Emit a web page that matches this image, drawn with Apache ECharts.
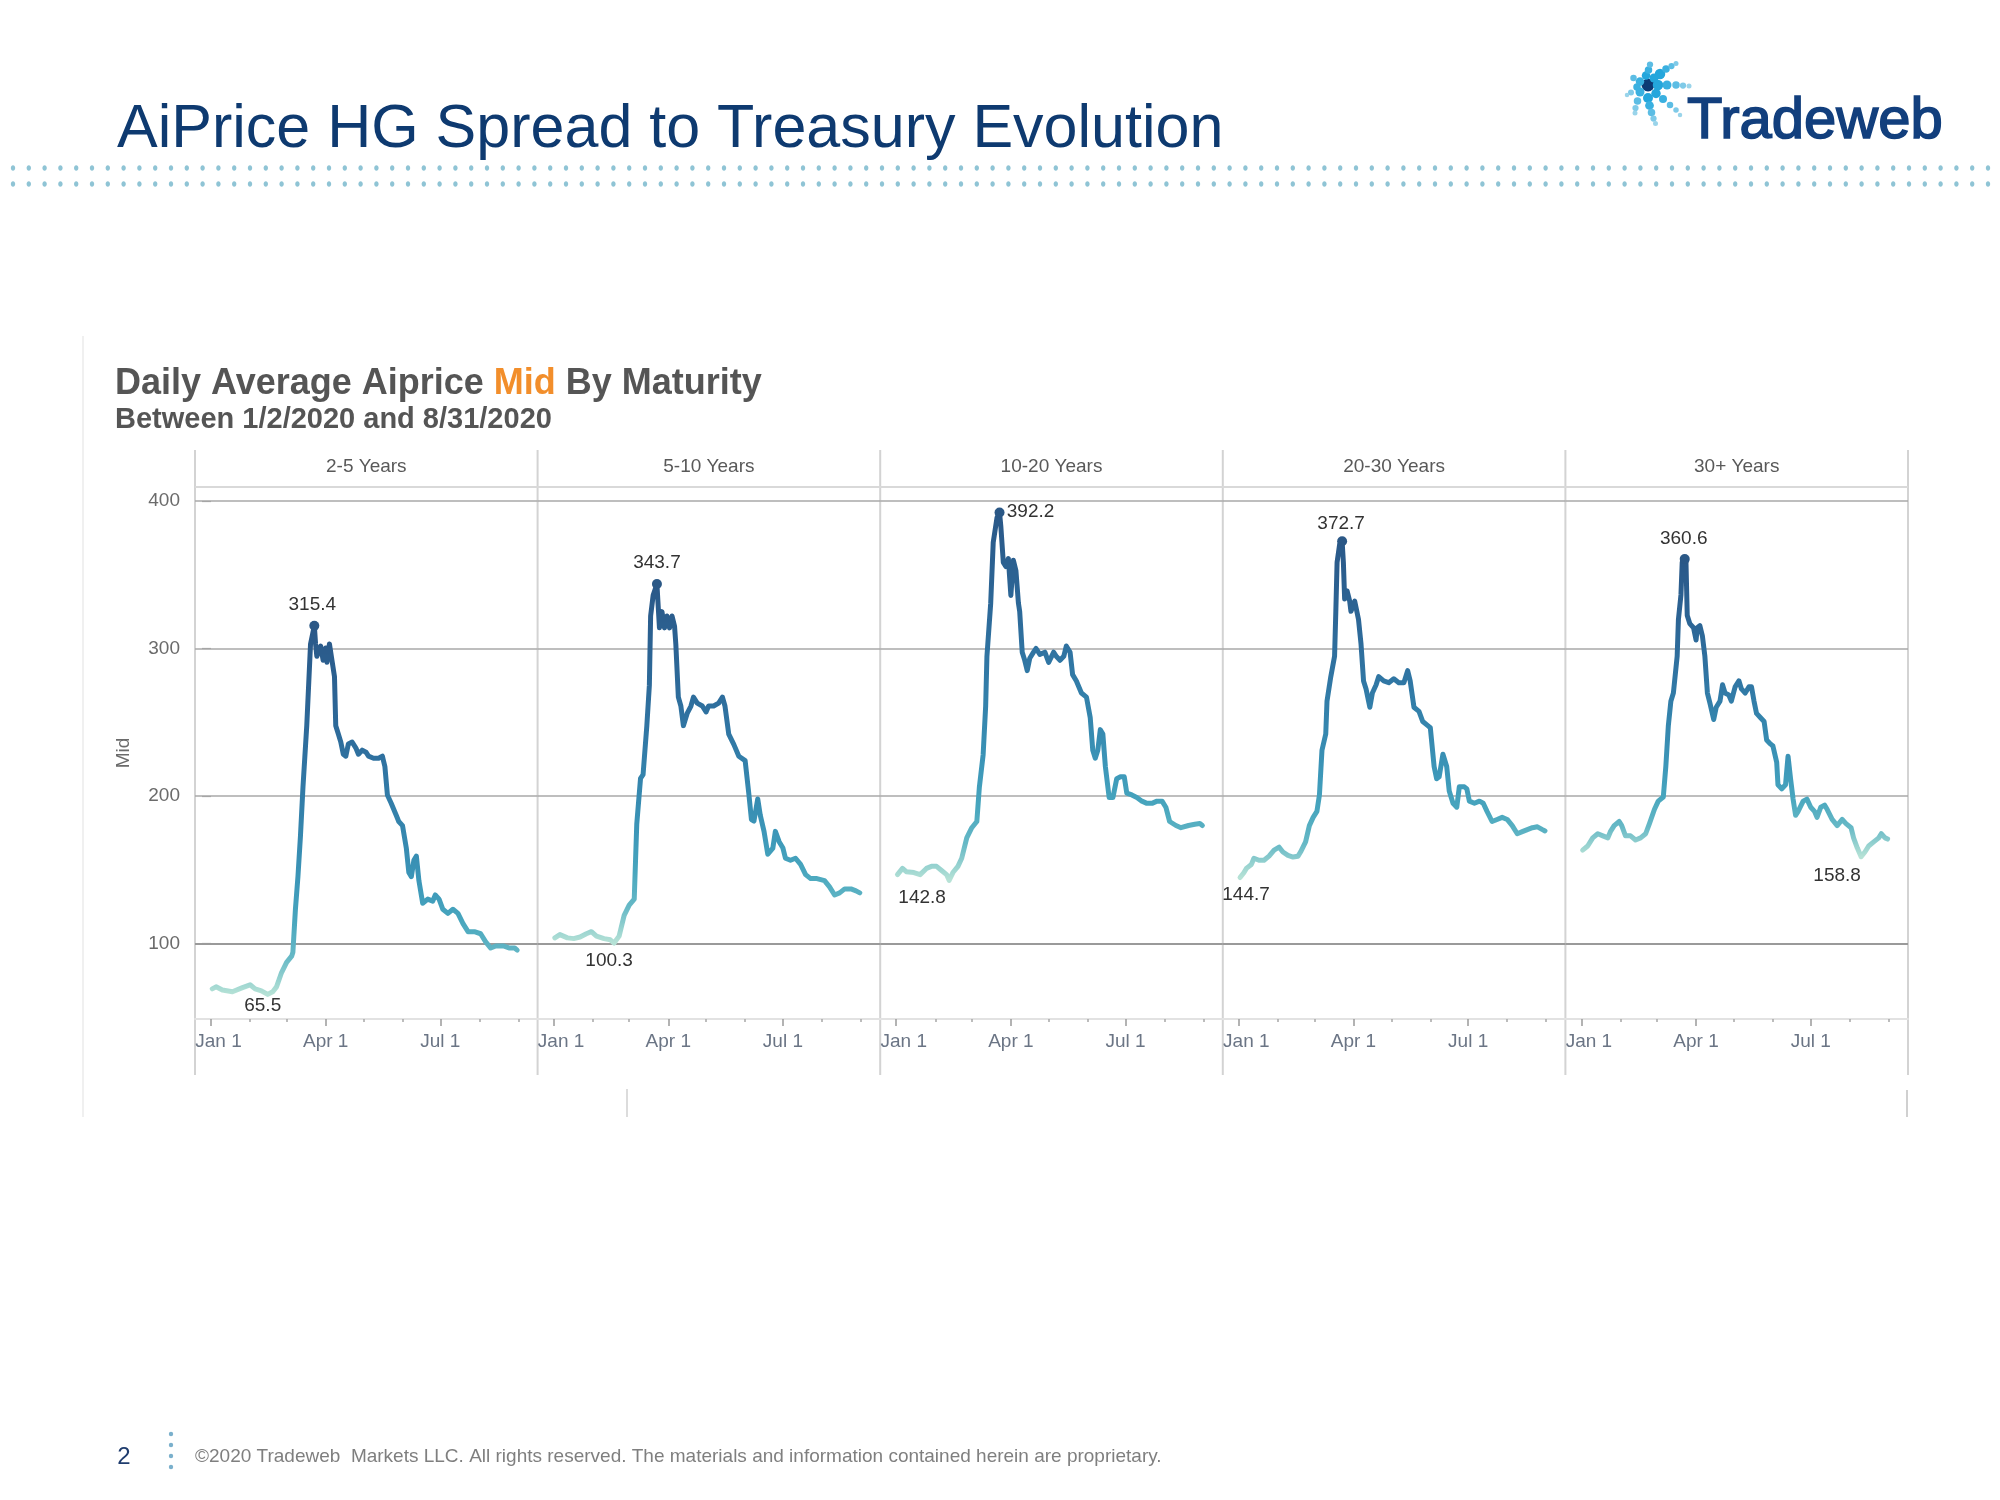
<!DOCTYPE html>
<html><head><meta charset="utf-8">
<script src="https://cdn.jsdelivr.net/npm/echarts@6/dist/echarts.min.js"></script>
<style>html,body{margin:0;padding:0;background:#fff}#c{width:2000px;height:1500px}</style>
</head><body><div id="c"></div>
<script>
// ---------------- DATA ----------------
const panelNames = ['2-5 Years', '5-10 Years', '10-20 Years', '20-30 Years', '30+ Years'];

const dates25 = ['01-02','01-05','01-10','01-18','01-26','02-01','02-05','02-10','02-15','02-19',
'02-22','02-26','03-01','03-05','03-06','03-08','03-10','03-12','03-14','03-17',
'03-20','03-23','03-24','03-25','03-28','03-30','04-01','04-02','04-04','04-06',
'04-08','04-09','04-11','04-13','04-15','04-17','04-19','04-22','04-25','04-27',
'04-30','05-03','05-05','05-09','05-13','05-16','05-18','05-20','05-23','05-27',
'05-29','06-01','06-04','06-06','06-08','06-10','06-12','06-14','06-17','06-21',
'06-25','06-27','06-30','07-03','07-07','07-11','07-15','07-19','07-23','07-28',
'08-02','08-06','08-10','08-14','08-20','08-25','08-29','08-31'];
const mid25 = [69.2,70.6,68.4,67.3,70.1,72.0,69.2,67.9,65.5,67.3,
70.6,80.3,87.2,91.4,94.1,123.2,145.3,173.0,206.2,247.7,
303.1,315.4,303.1,294.7,301.7,292.0,300.3,290.6,303.1,292.0,
280.9,247.7,242.2,236.6,228.3,227.0,235.3,236.6,232.5,228.3,
231.1,229.7,227.0,225.6,225.6,227.0,220.0,200.7,195.1,186.9,
182.7,179.9,164.7,148.1,145.3,156.4,159.2,142.6,127.3,130.1,
128.7,132.9,130.1,123.2,120.4,123.2,120.4,113.5,108.0,108.0,
106.6,101.1,96.9,98.3,98.3,96.9,96.9,95.5];

const dates510 = ['01-02','01-06','01-12','01-17','01-22','01-27','01-31','02-04','02-10','02-15',
'02-18','02-22','02-26','03-01','03-05','03-07','03-10','03-12','03-15','03-17',
'03-18','03-20','03-23','03-25','03-27','03-29','03-31','04-02','04-04','04-06',
'04-07','04-09','04-11','04-13','04-16','04-19','04-21','04-24','04-28','05-01',
'05-03','05-07','05-11','05-14','05-16','05-19','05-23','05-27','06-01','06-04',
'06-06','06-08','06-11','06-13','06-16','06-19','06-23','06-25','06-28','07-01',
'07-03','07-07','07-11','07-15','07-19','07-23','07-28','08-03','08-07','08-11',
'08-15','08-19','08-24','08-28','08-31'];
const mid510 = [103.8,106.0,103.8,103.3,104.4,106.6,108.0,105.0,103.3,102.5,
100.3,105.0,119.0,126.0,130.0,181.0,212.0,214.5,247.7,275.0,
322.0,336.0,343.7,314.0,325.0,314.0,322.0,314.0,322.0,315.0,
303.0,267.0,261.0,247.7,256.0,261.0,267.0,263.0,261.0,257.0,
261.0,261.0,263.0,267.0,261.0,242.0,235.0,227.0,224.0,201.0,
184.0,183.0,198.0,187.0,176.0,160.5,164.7,176.0,169.0,164.7,
157.8,156.4,157.8,153.6,146.7,144.0,144.0,142.6,138.4,132.9,
134.3,137.0,137.0,135.7,134.3];

const dates1020 = ['01-02','01-06','01-09','01-15','01-20','01-25','01-29','02-02','02-06','02-10',
'02-12','02-15','02-19','02-22','02-26','03-01','03-05','03-07','03-10','03-12',
'03-13','03-16','03-18','03-21','03-23','03-24','03-26','03-28','03-30','04-01',
'04-03','04-05','04-07','04-08','04-10','04-12','04-14','04-16','04-19','04-21',
'04-24','04-28','05-01','05-05','05-07','05-10','05-13','05-15','05-18','05-20',
'05-23','05-27','05-31','06-03','06-05','06-07','06-09','06-11','06-13','06-15',
'06-18','06-21','06-24','06-27','06-30','07-02','07-06','07-10','07-14','07-18',
'07-22','07-26','07-30','08-02','08-05','08-10','08-14','08-20','08-25','08-29',
'08-31'];
const mid1020 = [146.7,150.9,148.7,148.1,146.7,150.9,152.3,152.3,149.5,146.7,
142.8,148.1,152.3,157.8,171.6,178.5,182.7,206.0,228.0,261.0,
294.7,330.7,372.0,388.8,392.2,383.3,358.4,355.6,361.0,336.0,
359.8,352.9,330.7,325.2,297.5,292.0,285.0,293.4,297.5,300.0,
296.0,297.5,290.6,297.5,294.7,292.0,294.7,301.7,297.5,282.3,
278.0,269.8,267.0,253.0,231.0,225.6,231.0,245.0,242.0,220.0,
199.0,199.0,211.7,213.0,213.0,202.0,200.7,199.0,196.5,195.0,
195.0,196.5,196.5,192.4,182.7,180.0,178.5,180.0,180.8,181.3,
180.0];

const dates2030 = ['01-02','01-05','01-07','01-11','01-13','01-17','01-21','01-25','01-29','02-02',
'02-05','02-09','02-13','02-17','02-19','02-23','02-26','02-29','03-03','03-05',
'03-07','03-10','03-11','03-14','03-17','03-18','03-19','03-21','03-23','03-24',
'03-25','03-27','03-29','03-30','04-02','04-03','04-05','04-07','04-09','04-11',
'04-13','04-14','04-16','04-19','04-21','04-25','04-29','05-03','05-07','05-11',
'05-14','05-16','05-19','05-23','05-26','05-30','06-01','06-04','06-06','06-08',
'06-11','06-14','06-16','06-19','06-22','06-24','06-28','06-30','07-02','07-06',
'07-10','07-13','07-16','07-20','07-24','07-28','08-01','08-05','08-09','08-13',
'08-17','08-21','08-25','08-29','08-31'];
const mid2030 = [144.7,148.0,150.9,153.6,157.8,156.4,156.4,159.2,163.3,165.3,
162.0,159.7,158.6,159.2,162.0,168.9,179.9,185.5,189.6,200.7,
231.0,242.0,264.3,280.9,294.7,325.2,358.4,370.5,372.7,358.4,
333.5,339.0,332.1,325.2,332.1,328.0,319.7,303.0,278.0,272.6,
264.3,260.2,269.8,275.4,280.9,278.0,276.8,279.5,276.8,276.8,
285.0,278.0,260.2,257.4,250.5,247.7,246.3,220.0,211.7,213.0,
228.3,220.0,203.4,195.1,192.4,206.2,206.2,204.8,196.5,195.1,
196.5,195.1,189.6,182.7,184.1,185.5,184.1,179.9,174.4,175.8,
177.2,178.5,179.1,177.2,176.3];

const dates30 = ['01-02','01-06','01-10','01-14','01-18','01-22','01-24','01-27','01-31','02-02',
'02-05','02-09','02-13','02-17','02-21','02-24','02-28','03-02','03-06','03-08',
'03-10','03-12','03-14','03-17','03-18','03-20','03-21','03-23','03-24','03-25',
'03-27','03-30','04-01','04-02','04-04','04-06','04-08','04-10','04-12','04-15',
'04-17','04-20','04-22','04-24','04-27','04-29','05-02','05-05','05-07','05-10',
'05-13','05-15','05-17','05-19','05-22','05-25','05-27','05-30','06-01','06-04',
'06-05','06-08','06-11','06-13','06-15','06-17','06-19','06-21','06-25','06-28',
'07-01','07-04','07-06','07-09','07-12','07-14','07-18','07-22','07-26','07-29',
'08-02','08-04','08-07','08-10','08-13','08-16','08-20','08-24','08-26','08-29',
'08-31'];
const mid30 = [163.3,166.1,171.6,174.4,173.0,171.6,175.8,179.9,182.7,179.9,
173.0,173.0,170.2,171.6,174.4,181.3,191.0,196.5,199.3,220.0,
247.7,264.3,269.8,294.7,319.7,336.3,358.4,360.6,358.4,322.4,
316.9,314.1,305.8,314.1,315.5,308.6,294.7,269.8,262.9,251.9,
260.2,264.3,275.4,269.8,268.5,264.3,274.0,278.1,272.6,269.8,
274.0,274.0,264.3,256.0,253.2,250.5,238.0,235.3,233.9,222.8,
207.6,204.8,207.6,227.0,211.7,197.9,186.9,189.6,196.5,197.9,
192.4,189.6,185.5,192.4,193.8,191.0,184.1,179.9,184.1,181.3,
178.5,171.6,164.7,158.8,162.0,166.1,168.9,171.6,174.4,171.6,
170.8];

const yTickValues = [100, 200, 300, 400];
const xTickDays = [0, 91, 182];            // Jan 1, Apr 1, Jul 1 (day of 2020)
const xTickLabels = ['Jan 1', 'Apr 1', 'Jul 1'];
const xMinorDays = [31, 60, 121, 152, 213, 244]; // Feb 1, Mar 1, May 1, Jun 1, Aug 1, Sep 1

// ---------------- LAYOUT / STYLE ----------------
const FONT = '"Liberation Sans", Arial, sans-serif';
const NAVY = '#0e3a70';
const PL = 195, PW = 342.6, GT = 487, GH = 532;
const X_MIN = -12.7, X_MAX = 259.2, Y_MIN = 48.8, Y_MAX = 409.5;
const BLUE_TEAL = ['#b6e2d6','#66b9c6','#48a6be','#3d98b9','#378bb1','#3380aa','#3075a3','#2e6c9b','#2c6494','#2b5e8e','#2a5888'];
const maxOffsets = [[-2,-21],[0,-21.5],[31,-1],[-1,-18],[-1,-20]];
const minOffsets = [[-5,11],[-5,18],[-27,17],[6,17.5],[-24,19]];

function doy(s) {
  const p = s.split('-').map(Number);
  return (Date.UTC(2020, p[0] - 1, p[1]) - Date.UTC(2020, 0, 1)) / 86400000;
}
const allDates = [dates25, dates510, dates1020, dates2030, dates30];
const allMids = [mid25, mid510, mid1020, mid2030, mid30];

const grids = [], xAxes = [], yAxes = [], series = [], visualMaps = [];
panelNames.forEach((name, i) => {
  grids.push({ left: PL + i * PW, top: GT, width: PW, height: GH, containLabel: false, outerBoundsMode: 'none' });
  xAxes.push({
    type: 'value', gridIndex: i, position: 'bottom', min: X_MIN, max: X_MAX,
    splitLine: { show: false },
    axisLine: { show: true, lineStyle: { color: '#e2e2e2', width: 2 } },
    axisTick: { show: true, customValues: xTickDays, length: 7, lineStyle: { color: '#9a9a9a', width: 1.5 } },
    axisLabel: { show: true, customValues: xTickDays, margin: 13, fontSize: 19, color: '#6b7585', fontFamily: FONT,
      formatter: v => {
        const k = xTickDays.indexOf(Math.round(v));
        if (k < 0) return '';
        return k === 0 ? '{first|' + xTickLabels[k] + '}' : xTickLabels[k];
      },
      rich: { first: { fontSize: 19, color: '#6b7585', fontFamily: FONT, padding: [0, 0, 0, 15] } } }
  });
  xAxes.push({
    type: 'value', gridIndex: i, position: 'bottom', min: X_MIN, max: X_MAX,
    splitLine: { show: false }, axisLine: { show: false },
    axisTick: { show: true, customValues: xMinorDays, length: 3, lineStyle: { color: '#a8a8a8', width: 1.5 } },
    axisLabel: { show: false }
  });
  yAxes.push({
    type: 'value', gridIndex: i, min: Y_MIN, max: Y_MAX,
    splitLine: { show: false }, axisLine: { show: false },
    axisTick: { show: i === 0, customValues: yTickValues, length: 9, lineStyle: { color: '#9a9a9a', width: 1.2 } },
    axisLabel: { show: i === 0, customValues: yTickValues, margin: 15, fontSize: 19, color: '#6b6b6b', fontFamily: FONT },
    name: i === 0 ? 'Mid' : '', nameLocation: 'middle', nameRotate: 90, nameGap: 62,
    nameTextStyle: { fontSize: 19, color: '#6b6b6b', fontFamily: FONT }
  });
  const dts = allDates[i], mids = allMids[i];
  series.push({
    type: 'line', name: name, xAxisIndex: 2 * i, yAxisIndex: i, z: 3,
    data: dts.map((d, k) => [doy(d), mids[k]]),
    symbol: 'none', showSymbol: false,
    lineStyle: { width: 5, cap: 'round', join: 'round' },
    markLine: {
      silent: true, z: 1, symbol: ['none', 'none'], label: { show: false },
      lineStyle: { color: '#a5a5a5', width: 1.5, type: 'solid' },
      emphasis: { disabled: true },
      data: yTickValues.map(v => ({ yAxis: v, lineStyle: { width: v === 100 ? 2 : 1.5, color: v === 100 ? '#9a9a9a' : '#a8a8a8' } }))
    },
    markPoint: {
      silent: true,
      label: { show: true, position: 'inside', color: '#333', fontSize: 19, fontFamily: FONT,
        formatter: p => Number(p.value).toFixed(1) },
      data: [
        { type: 'max', symbol: 'circle', symbolSize: 10, itemStyle: { color: '#2b5886' },
          label: { offset: maxOffsets[i] } },
        { type: 'min', symbol: 'circle', symbolSize: 1, itemStyle: { color: 'rgba(0,0,0,0)' },
          label: { offset: minOffsets[i] } }
      ]
    }
  });
  visualMaps.push({
    type: 'continuous', show: false, seriesIndex: i, dimension: 1,
    min: Math.min(...mids), max: Math.max(...mids), inRange: { color: BLUE_TEAL }
  });
});

// ---------------- DECORATION ----------------
const graphics = [];
// slide title
graphics.push({ type: 'text', z: 10, style: { x: 117, y: 130, text: 'AiPrice HG Spread to Treasury Evolution',
  font: '61px ' + FONT, fill: NAVY, verticalAlign: 'middle', align: 'left' } });
// dotted rules
for (let r = 0; r < 2; r++) {
  for (let k = 0; k < 127; k++) {
    graphics.push({ type: 'ellipse', silent: true, shape: { cx: 13 + k * 15.8, cy: r === 0 ? 168 : 184, rx: 2.2, ry: 2.7 }, style: { fill: '#8fc4d5' } });
  }
}
// logo
const LS = 1.25;
const logoDots = [
  [1648,83,5.2,'#0d3a75'],
  [1660,72,4.2,'#24a6dc'],[1654,76,3.6,'#24a6dc'],[1658,83,4.2,'#24a6dc'],[1667,83,3.6,'#3ab0e0'],[1676,83,3,'#5cbde4'],[1683,83.5,2.5,'#7fcae8'],[1689,84,2,'#9ad4ea'],
  [1656,91.5,3.8,'#24a6dc'],[1663,97,3.2,'#3ab0e0'],[1670,103,2.6,'#5cbde4'],[1676,108,2.2,'#7fcae8'],[1680,113,1.8,'#9ad4ea'],
  [1648,96,4,'#24a6dc'],[1649.5,103.5,3.5,'#3ab0e0'],[1651.5,110.5,3,'#5cbde4'],[1653.5,116.5,2.5,'#7fcae8'],[1655.5,121.5,2,'#9ad4ea'],
  [1640,90,3.6,'#3ab0e0'],[1637.5,99,3,'#5cbde4'],[1635.5,106,2.5,'#7fcae8'],[1635,111,2,'#9ad4ea'],
  [1640,79.5,3.4,'#3ab0e0'],[1633.5,76,2.6,'#5cbde4'],[1637,85,3,'#3ab0e0'],[1631,90.5,2.4,'#7fcae8'],[1627,93,1.8,'#9ad4ea'],
  [1646,73.5,3.4,'#24a6dc'],[1648.5,68,3,'#3ab0e0'],[1650,62.5,2.5,'#5cbde4'],
  [1666,67,3,'#3ab0e0'],[1671.5,64,2.5,'#5cbde4'],[1676,61.5,2,'#7fcae8']
];
logoDots.forEach(d => graphics.push({ type: 'circle', silent: true, shape: { cx: d[0], cy: d[1] + 2, r: d[2] * LS }, style: { fill: d[3] } }));
graphics.push({ type: 'text', style: { x: 1687, y: 122, text: 'Tradeweb', font: '58px ' + FONT, fill: '#123f7d',
  stroke: '#123f7d', lineWidth: 1.6, verticalAlign: 'middle' } });

// chart titles
graphics.push({ type: 'text', style: { x: 115, y: 384, verticalAlign: 'middle',
  text: '{a|Daily Average Aiprice }{b|Mid}{a| By Maturity}',
  rich: { a: { font: 'bold 36px ' + FONT, fill: '#555555' }, b: { font: 'bold 36px ' + FONT, fill: '#f28e2b' } } } });
graphics.push({ type: 'text', style: { x: 115, y: 420, verticalAlign: 'middle', text: 'Between 1/2/2020 and 8/31/2020',
  font: 'bold 29px ' + FONT, fill: '#555555' } });

// dashboard frame
graphics.push({ type: 'line', silent: true, shape: { x1: 83, y1: 336, x2: 83, y2: 1117 }, style: { stroke: '#f0f0f0', lineWidth: 2 } });
graphics.push({ type: 'line', silent: true, shape: { x1: 627, y1: 1089, x2: 627, y2: 1117 }, style: { stroke: '#dcdcdc', lineWidth: 2 } });
graphics.push({ type: 'line', silent: true, shape: { x1: 1907, y1: 1090, x2: 1907, y2: 1117 }, style: { stroke: '#d0d0d0', lineWidth: 2 } });
// panel borders and header
for (let i = 0; i <= panelNames.length; i++) {
  const x = PL + i * PW;
  graphics.push({ type: 'line', silent: true, z: 0, shape: { x1: x, y1: 450, x2: x, y2: 1075 }, style: { stroke: '#d3d3d3', lineWidth: 2 } });
}
graphics.push({ type: 'line', silent: true, z: 0, shape: { x1: PL, y1: GT, x2: PL + 5 * PW, y2: GT }, style: { stroke: '#d9d9d9', lineWidth: 2 } });
panelNames.forEach((n, i) => {
  graphics.push({ type: 'text', style: { x: PL + i * PW + PW / 2, y: 467, text: n, font: '19px ' + FONT, fill: '#595959', align: 'center', verticalAlign: 'middle' } });
});

// footer
graphics.push({ type: 'text', style: { x: 124, y: 1457, text: '2', font: '24px ' + FONT, fill: '#1f3c6e', align: 'center', verticalAlign: 'middle' } });
[1434, 1445, 1456, 1467].forEach(y => graphics.push({ type: 'circle', silent: true, shape: { cx: 171, cy: y, r: 2.2 }, style: { fill: '#7ab0cc' } }));
graphics.push({ type: 'text', style: { x: 195, y: 1457, verticalAlign: 'middle',
  text: '\u00a92020 Tradeweb  Markets LLC. All rights reserved. The materials and information contained herein are proprietary.',
  font: '19px ' + FONT, fill: '#7f7f7f' } });

const chart = echarts.init(document.getElementById('c'), null, { renderer: 'canvas', width: 2000, height: 1500 });
chart.setOption({
  backgroundColor: '#ffffff',
  animation: false,
  grid: grids, xAxis: xAxes, yAxis: yAxes, series: series, visualMap: visualMaps,
  graphic: { elements: graphics }
});
</script></body></html>
